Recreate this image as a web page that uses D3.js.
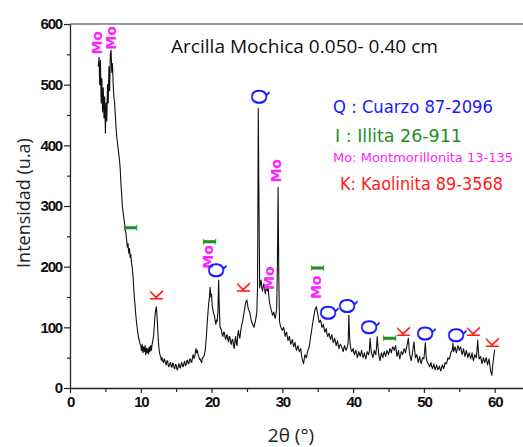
<!DOCTYPE html>
<html>
<head>
<meta charset="utf-8">
<script src="https://cdn.jsdelivr.net/npm/d3@7"></script>
<style>
  body { margin: 0; background: #fff; }
  .tick text { font-family: "Liberation Sans Narrow", "Liberation Sans", Arial, sans-serif; }
</style>
</head>
<body>
<div id="chart"></div>
<script>
// scan grid of the diffractometer (deg 2theta)
var scanStart = 4.0, scanStep = 0.1;
// intensity (u.a), one row per degree (x.0 .. x.9)
var intensity = [
  530,545,500,540,470,510,455,495,445,480,   // 4
  420,470,440,500,470,530,490,550,557,520,   // 5
  535,500,480,470,450,430,415,405,395,385,   // 6
  375,360,335,320,300,290,280,272,262,255,   // 7
  245,232,238,222,230,215,220,205,198,185,   // 8
  165,148,135,120,108,98,90,82,78,72,        // 9
  70,62,72,58,68,60,70,55,66,58,             // 10
  65,56,68,60,70,62,72,78,85,100,            // 11
  118,128,134,118,95,75,62,55,52,46,         // 12
  50,44,42,48,46,40,38,45,44,36,             // 13
  35,40,42,36,34,41,40,33,32,39,             // 14
  38,31,30,37,40,34,33,40,42,36,             // 15
  35,41,44,37,38,45,46,40,40,47,             // 16
  48,43,42,50,55,49,50,58,65,58,             // 17
  62,55,52,47,48,44,42,49,50,52,             // 18
  55,62,75,90,110,125,140,150,166,150,       // 19
  155,135,128,122,120,112,105,112,110,125,   // 20
  178,130,100,98,95,88,85,92,92,84,          // 21
  80,86,88,79,76,85,84,75,72,80,             // 22
  80,70,65,78,85,73,70,88,95,86,             // 23
  82,92,100,106,110,118,125,132,140,143,     // 24
  145,136,130,127,125,118,112,108,105,102,   // 25
  100,106,110,118,125,170,461,300,165,172,   // 26
  178,165,160,168,172,162,155,162,168,160,   // 27
  165,150,140,135,130,126,120,122,125,118,   // 28
  115,122,130,200,331,180,110,104,100,97,    // 29
  95,98,100,92,85,90,92,84,78,82,            // 30
  85,78,72,76,80,74,68,72,75,66,             // 31
  62,66,70,64,60,63,65,55,48,44,             // 32
  40,48,55,52,50,56,62,65,68,76,             // 33
  85,92,100,108,115,122,128,132,134,128,     // 34
  122,115,108,110,112,106,100,102,105,98,    // 35
  92,95,98,90,85,88,90,84,80,84,             // 36
  88,80,75,78,82,76,70,74,78,70,             // 37
  65,70,72,70,68,63,60,66,70,65,             // 38
  62,65,68,75,120,85,70,64,60,62,            // 39
  65,58,55,60,62,56,50,55,60,56,             // 40
  52,57,62,55,50,54,58,52,48,54,             // 41
  60,57,55,62,82,66,58,54,50,56,             // 42
  62,58,55,66,85,70,58,50,45,52,             // 43
  58,54,50,56,60,55,52,58,62,58,             // 44
  55,60,65,62,58,64,68,65,62,66,             // 45
  70,60,52,56,62,54,48,54,60,58,             // 46
  55,60,65,62,58,64,70,76,82,66,             // 47
  55,50,45,52,60,68,76,62,50,52,             // 48
  55,48,42,47,52,45,40,44,50,49,             // 49
  48,60,75,56,45,42,40,38,35,38,             // 50
  42,36,32,35,40,34,30,34,38,33,             // 51
  30,33,36,31,28,33,38,35,32,37,             // 52
  42,40,40,45,50,48,48,53,58,60,             // 53
  62,74,60,64,68,62,58,64,70,66,             // 54
  62,65,68,60,55,60,65,58,52,57,             // 55
  62,56,50,54,58,53,48,52,58,50,             // 56
  45,50,55,52,50,62,79,60,48,50,             // 57
  52,46,40,45,50,46,42,46,50,44,             // 58
  38,43,48,40,30,25,21,35,45,55,             // 59
  63                                         // 60
];

// phase markers: rotated letters above the peaks
var markPhase = ["Mo","Mo","I","K","I","Mo","Q","K","Q","Mo","Mo","I","Mo","Q","Q","Q","I","K","Q","Q","K","K"];
var markX = [3.81,5.79,8.62,12.29,19.68,19.49,20.72,24.58,26.84,29.05,28.15,34.93,34.75,36.48,39.17,42.27,45.10,47.18,50.28,54.62,57.10,59.70];
var markY = [569,577,264,152,241,216,194,165,480,358,181,198,166,124,135,100,82,92,90,87,92,74];

var legendText = ["Q : Cuarzo 87-2096","I : Illita 26-911","Mo: Montmorillonita 13-135","K: Kaolinita 89-3568"];
var legendPhase = ["Q","I","Mo","K"];

var phaseColor = {Q: "#1a1aff", I: "#1f8f1f", Mo: "#ff22ff", K: "#ff1a1a"};

var xTicks = [0,10,20,30,40,50,60];
var xMinor = [5,15,25,35,45,55];
var yTicks = [0,100,200,300,400,500,600];
var yMinor = [50,150,250,350,450,550];

var W = 523, H = 447;
var svg = d3.select("#chart").append("svg").attr("width", W).attr("height", H);

var x = d3.scaleLinear().domain([0, 64]).range([70, 523]);
var y = d3.scaleLinear().domain([0, 600]).range([388, 24]);

var pts = intensity.map(function(v, i) { return [scanStart + i * scanStep, v]; });

// frame top line
svg.append("line")
  .attr("x1", x(0)).attr("x2", x(64))
  .attr("y1", y(600)).attr("y2", y(600))
  .attr("stroke", "#333").attr("stroke-width", 1.2);

// pattern
svg.append("path")
  .datum(pts)
  .attr("fill", "none")
  .attr("stroke", "#111")
  .attr("stroke-width", 1.1)
  .attr("stroke-linejoin", "round")
  .attr("d", d3.line().x(function(d) { return x(d[0]); }).y(function(d) { return y(d[1]); }));

// axes
svg.append("g").attr("transform", "translate(0," + y(0) + ")")
  .call(d3.axisBottom(x).tickValues(xTicks).tickSize(5).tickSizeOuter(0).tickPadding(3));
svg.append("g").attr("transform", "translate(0," + y(0) + ")")
  .call(d3.axisBottom(x).tickValues(xMinor).tickSize(4).tickFormat("").tickSizeOuter(0))
  .select(".domain").remove();
svg.append("g").attr("transform", "translate(" + x(0) + ",0)")
  .call(d3.axisLeft(y).tickValues(yTicks).tickSize(6).tickSizeOuter(0).tickPadding(2));
svg.append("g").attr("transform", "translate(" + x(0) + ",0)")
  .call(d3.axisLeft(y).tickValues(yMinor).tickSize(3).tickFormat("").tickSizeOuter(0))
  .select(".domain").remove();

svg.selectAll(".domain").attr("stroke", "#222").attr("stroke-width", 1.3);
svg.selectAll(".tick line").attr("stroke", "#222").attr("stroke-width", 1.2);
svg.selectAll(".tick text")
  .attr("fill", "#111")
  .style("font-size", "15px")
  .style("font-weight", "bold")
  .style("letter-spacing", "-1.2px");

// axis titles
svg.append("text")
  .attr("transform", "translate(30,203) rotate(-90)")
  .attr("text-anchor", "middle")
  .attr("fill", "#222")
  .style("font-family", "Open Sans, sans-serif")
  .style("font-size", "18px")
  .text("Intensidad (u.a)");

svg.append("text")
  .attr("x", 291).attr("y", 442)
  .attr("text-anchor", "middle")
  .attr("fill", "#222")
  .style("font-family", "Open Sans, sans-serif")
  .style("font-size", "19px")
  .text("2θ (°)");

// title
svg.append("text")
  .attr("x", 171).attr("y", 53)
  .attr("textLength", 267).attr("lengthAdjust", "spacingAndGlyphs")
  .attr("fill", "#111")
  .style("font-family", "Open Sans, sans-serif")
  .style("font-size", "18px")
  .text("Arcilla Mochica 0.050- 0.40 cm");

// legend
var legX = [333, 335, 333, 340];
var legY = [113, 142, 162, 190];
var legLen = [160, 127, 180, 163];
var legSize = [17, 17, 12.5, 17];
svg.selectAll("text.leg")
  .data(legendText)
  .enter().append("text")
  .attr("class", "leg")
  .attr("x", function(d, i) { return legX[i]; })
  .attr("y", function(d, i) { return legY[i]; })
  .attr("textLength", function(d, i) { return legLen[i]; })
  .attr("lengthAdjust", "spacingAndGlyphs")
  .attr("fill", function(d, i) { return phaseColor[legendPhase[i]]; })
  .style("font-family", "DejaVu Sans, sans-serif")
  .style("font-size", function(d, i) { return legSize[i] + "px"; })
  .text(function(d) { return d; });

// peak markers
var markSize = {Q: 21, I: 18, Mo: 14, K: 17};
var markFont = {Q: "DejaVu Sans, sans-serif", I: "Liberation Serif, serif", Mo: "DejaVu Sans, sans-serif", K: "DejaVu Sans, sans-serif"};
var markWeight = {Q: "normal", I: "bold", Mo: "bold", K: "normal"};
svg.selectAll("text.mark")
  .data(markPhase)
  .enter().append("text")
  .attr("class", "mark")
  .attr("transform", function(d, i) {
    return "translate(" + x(markX[i]) + "," + y(markY[i]) + ") rotate(-90)";
  })
  .attr("text-anchor", "middle")
  .attr("dy", "0.35em")
  .attr("fill", function(d) { return phaseColor[d]; })
  .style("font-family", function(d) { return markFont[d]; })
  .style("font-size", function(d) { return markSize[d] + "px"; })
  .style("font-weight", function(d) { return markWeight[d]; })
  .text(function(d) { return d; });
</script>
</body>
</html>
